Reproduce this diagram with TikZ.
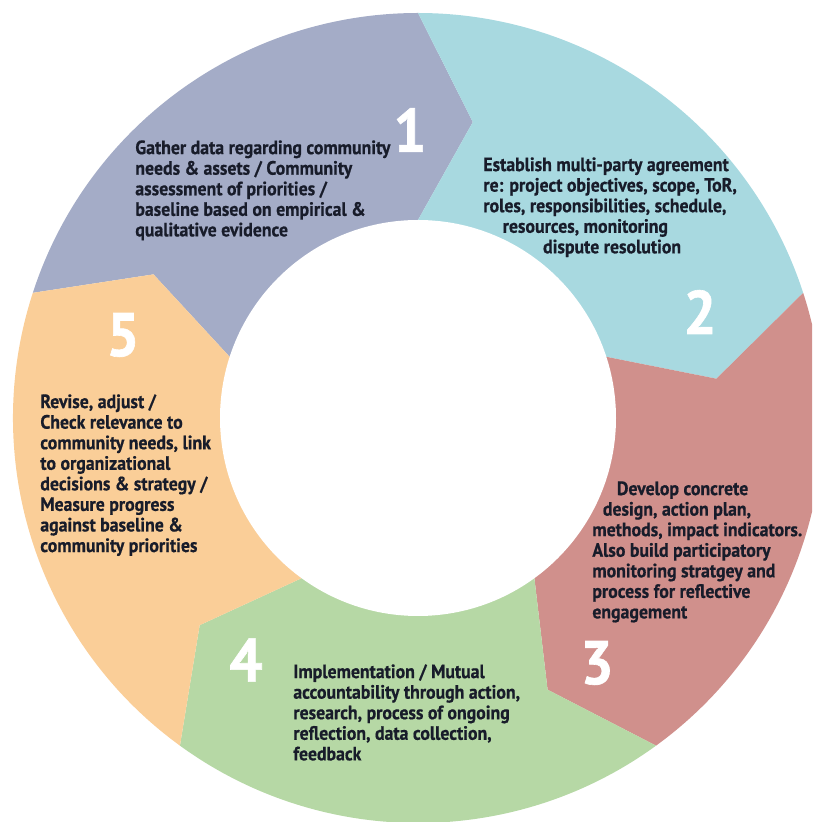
\documentclass[tikz,border=0pt]{standalone}
\usepackage{fontspec}
\newfontfamily\stepfont[FakeStretch=0.92, FakeBold=0.6]{PT Sans}
\newfontfamily\numfont[FakeStretch=0.95, FakeBold=1]{PT Sans}

\definecolor{gather}{RGB}{164, 172, 199}
\definecolor{agree}{RGB}{168, 217, 224}
\definecolor{design}{RGB}{208, 144, 140}
\definecolor{implement}{RGB}{182, 216, 165}
\definecolor{revise}{RGB}{250, 206, 152}
\definecolor{textnavy}{RGB}{24, 28, 42}

\begin{document}
\begin{tikzpicture}[
    x=0.02cm, y=0.02cm,
    seg/.style={fill=#1, draw=none},
    steptext/.style={
        font=\stepfont\bfseries\fontsize{11}{11.7}\selectfont,
        text=textnavy, align=left, anchor=north west, inner sep=0pt
    },
    stepnum/.style={
        font=\numfont\bfseries\fontsize{35}{35}\selectfont,
        text=white, inner sep=0pt
    }
]
\useasboundingbox (0,0) rectangle (812,822);
\clip (0,0) rectangle (812,822);

% Ring: five arrow segments, notched tail and pointed head
\begin{scope}[shift={(418,404)}]
    \foreach \k/\col in {0/gather, 1/agree, 2/design, 3/implement, 4/revise} {
        \pgfmathsetmacro\s{162-72*\k}
        \pgfmathsetmacro\e{\s-72}
        \fill[seg=\col] (\s:405) arc[start angle=\s, end angle=\e, radius=405]
            -- ({\e-10.5}:301) -- (\e:198) -- (0,0) -- (\s:198) -- ({\s-10.5}:301) -- cycle;
    }
    % hole in the middle
    \fill[white] (0,0) circle[radius=198];
\end{scope}

% Step numbers
\node[stepnum] (n1) at (410,692) {1};
\node[stepnum] (n2) at (700,510) {2};
\node[stepnum] (n3) at (597,159) {3};
\node[stepnum] (n4) at (246,162) {4};
\node[stepnum] (n5) at (123,487) {5};

% Step descriptions
\node[steptext] (t1) at (135,682) {Gather data regarding community\\
    needs \& assets / Community\\
    assessment of priorities /\\
    baseline based on empirical \&\\
    qualitative evidence};
\node[steptext] (t2) at (483,665) {Establish multi-party agreement\\
    re: project objectives, scope, ToR,\\
    roles, responsibilities, schedule,\\
    \hspace*{11pt}resources, monitoring\\
    \hspace*{34pt}dispute resolution};
\node[steptext] (t3) at (592,341) {\hspace*{14pt}Develop concrete\\
    \hspace*{6pt}design, action plan,\\
    methods, impact indicators.\\
    Also build participatory\\
    monitoring stratgey and\\
    process for reflective\\
    engagement};
\node[steptext] (t4) at (293,158) {Implementation / Mutual\\
    accountability through action,\\
    research, process of ongoing\\
    reflection, data collection,\\
    feedback};
\node[steptext] (t5) at (40,428) {Revise, adjust /\\
    Check relevance to\\
    community needs, link\\
    to organizational\\
    decisions \& strategy /\\
    Measure progress\\
    against baseline \&\\
    community priorities};

\end{tikzpicture}
\end{document}
